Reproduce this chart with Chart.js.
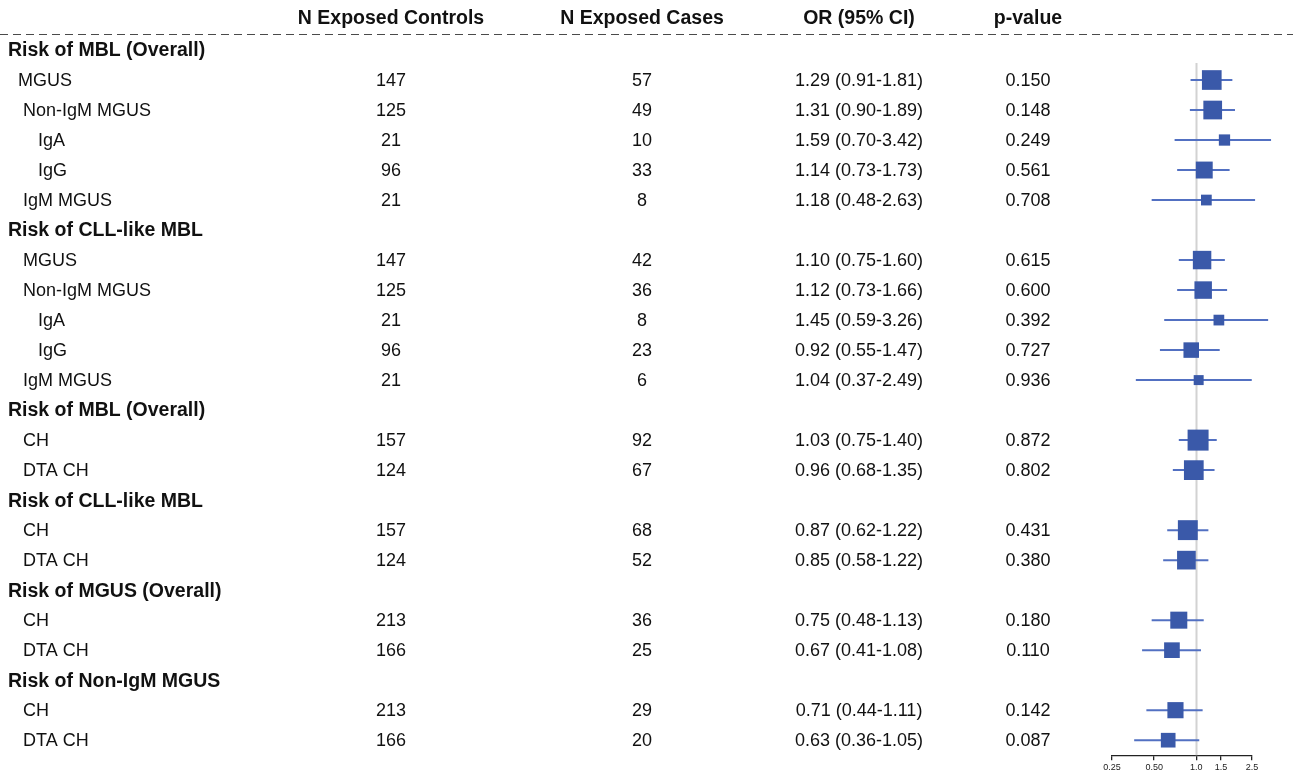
<!DOCTYPE html>
<html>
<head>
<meta charset="utf-8">
<script src="https://cdn.jsdelivr.net/npm/chart.js@4.4.1/dist/chart.umd.min.js"></script>
<style>
  html, body { margin: 0; padding: 0; background: #ffffff; }
  #wrap { width: 1293px; height: 776px; }
</style>
</head>
<body>
<div id="wrap"><canvas id="forest" width="1293" height="776"></canvas></div>
<script>
// ---- Table rows (top to bottom) ----
const rowLabels = [
  'Risk of MBL (Overall)',
  '  MGUS',
  '   Non-IgM MGUS',
  '      IgA',
  '      IgG',
  '   IgM MGUS',
  'Risk of CLL-like MBL',
  '   MGUS',
  '   Non-IgM MGUS',
  '      IgA',
  '      IgG',
  '   IgM MGUS',
  'Risk of MBL (Overall)',
  '   CH',
  '   DTA CH',
  'Risk of CLL-like MBL',
  '   CH',
  '   DTA CH',
  'Risk of MGUS (Overall)',
  '   CH',
  '   DTA CH',
  'Risk of Non-IgM MGUS',
  '   CH',
  '   DTA CH'
];
const isSection = [true, false, false, false, false, false,
                   true, false, false, false, false, false,
                   true, false, false,
                   true, false, false,
                   true, false, false,
                   true, false, false];
const nControls = [null, 147, 125, 21, 96, 21,
                   null, 147, 125, 21, 96, 21,
                   null, 157, 124,
                   null, 157, 124,
                   null, 213, 166,
                   null, 213, 166];
const nCases = [null, 57, 49, 10, 33, 8,
                null, 42, 36, 8, 23, 6,
                null, 92, 67,
                null, 68, 52,
                null, 36, 25,
                null, 29, 20];
const oddsRatio = [null, 1.29, 1.31, 1.59, 1.14, 1.18,
                   null, 1.10, 1.12, 1.45, 0.92, 1.04,
                   null, 1.03, 0.96,
                   null, 0.87, 0.85,
                   null, 0.75, 0.67,
                   null, 0.71, 0.63];
const ciLower = [null, 0.91, 0.90, 0.70, 0.73, 0.48,
                 null, 0.75, 0.73, 0.59, 0.55, 0.37,
                 null, 0.75, 0.68,
                 null, 0.62, 0.58,
                 null, 0.48, 0.41,
                 null, 0.44, 0.36];
const ciUpper = [null, 1.81, 1.89, 3.42, 1.73, 2.63,
                 null, 1.60, 1.66, 3.26, 1.47, 2.49,
                 null, 1.40, 1.35,
                 null, 1.22, 1.22,
                 null, 1.13, 1.08,
                 null, 1.11, 1.05];
const pValues = [null, '0.150', '0.148', '0.249', '0.561', '0.708',
                 null, '0.615', '0.600', '0.392', '0.727', '0.936',
                 null, '0.872', '0.802',
                 null, '0.431', '0.380',
                 null, '0.180', '0.110',
                 null, '0.142', '0.087'];
const columnHeaders = ['N Exposed Controls', 'N Exposed Cases', 'OR (95% CI)', 'p-value'];
const axisTicks = [0.25, 0.5, 1.0, 1.5, 2.5];
const axisTickLabels = ['0.25', '0.50', '1.0', '1.5', '2.5'];

// ---- Styling ----
const FONT = '"Liberation Sans", Arial, Helvetica, sans-serif';
const TEXT_COLOR = '#111111';
const BOX_COLOR = '#3a59a9';
const LINE_COLOR = '#5270c2';
const colCenters = [391, 642, 859, 1028];
const labelX = 8;
const textNudge = 1;

const dataRows = rowLabels.map((_, i) => i).filter(i => !isSection[i]);

// Box side follows the precision of each estimate (narrower CI -> bigger box)
const logWidth = i => Math.log(ciUpper[i] / ciLower[i]);
const minLogWidth = Math.min(...dataRows.map(logWidth));
const boxSide = i => 21 * Math.pow(minLogWidth / logWidth(i), 2 / 3);

const ciDatasets = dataRows.map(i => ({
  type: 'line',
  data: [{ x: ciLower[i], y: i }, { x: ciUpper[i], y: i }],
  borderColor: LINE_COLOR,
  borderWidth: 2,
  pointRadius: 0,
  clip: false,
  order: 2
}));

const boxDataset = {
  type: 'scatter',
  data: dataRows.map(i => ({ x: oddsRatio[i], y: i, row: i })),
  pointStyle: 'rect',
  pointRadius: ctx => boxSide(ctx.raw.row) / (2 * Math.SQRT1_2),
  pointHoverRadius: ctx => boxSide(ctx.raw.row) / (2 * Math.SQRT1_2),
  backgroundColor: BOX_COLOR,
  borderColor: BOX_COLOR,
  borderWidth: 0,
  clip: false,
  order: 1
};

// Null-effect reference line at OR = 1
const referenceLine = {
  id: 'referenceLine',
  beforeDatasetsDraw(chart) {
    const { ctx, scales: { x, y }, chartArea } = chart;
    const px = Math.round(x.getPixelForValue(1)) + 0.5;
    ctx.save();
    ctx.strokeStyle = '#d2d2d2';
    ctx.lineWidth = 2;
    ctx.beginPath();
    ctx.moveTo(px, y.getPixelForValue(0.43));
    ctx.lineTo(px, chartArea.bottom);
    ctx.stroke();
    ctx.restore();
  }
};

// Table text: column headers, dashed rule, row labels and statistics
const tableText = {
  id: 'tableText',
  afterDraw(chart) {
    const { ctx, scales: { y } } = chart;
    ctx.save();
    ctx.fillStyle = TEXT_COLOR;
    ctx.textBaseline = 'middle';

    ctx.font = 'bold 19.5px ' + FONT;
    ctx.textAlign = 'center';
    columnHeaders.forEach((h, k) => ctx.fillText(h, colCenters[k], 18 + textNudge));

    ctx.strokeStyle = '#4a4a4a';
    ctx.lineWidth = 1.2;
    ctx.setLineDash([8, 5]);
    ctx.beginPath();
    ctx.moveTo(0, 34.5);
    ctx.lineTo(1293, 34.5);
    ctx.stroke();
    ctx.setLineDash([]);

    rowLabels.forEach((label, i) => {
      const py = y.getPixelForValue(i) + textNudge;
      ctx.textAlign = 'left';
      if (isSection[i]) {
        ctx.font = 'bold 19.5px ' + FONT;
        ctx.fillText(label, labelX, py);
        return;
      }
      ctx.font = '18px ' + FONT;
      ctx.fillText(label, labelX, py);
      ctx.textAlign = 'center';
      ctx.fillText(String(nControls[i]), colCenters[0], py);
      ctx.fillText(String(nCases[i]), colCenters[1], py);
      const orText = oddsRatio[i].toFixed(2) + ' (' + ciLower[i].toFixed(2) + '-' + ciUpper[i].toFixed(2) + ')';
      ctx.fillText(orText, colCenters[2], py);
      ctx.fillText(pValues[i], colCenters[3], py);
    });
    ctx.restore();
  }
};

new Chart(document.getElementById('forest'), {
  type: 'scatter',
  data: { datasets: [boxDataset, ...ciDatasets] },
  options: {
    responsive: false,
    devicePixelRatio: 1,
    animation: false,
    events: [],
    layout: { padding: { left: 1112, right: 41, top: 35, bottom: 1 } },
    plugins: { legend: { display: false }, tooltip: { enabled: false } },
    scales: {
      x: {
        type: 'logarithmic',
        min: 0.25,
        max: 2.5,
        position: 'bottom',
        afterBuildTicks: scale => { scale.ticks = axisTicks.map(v => ({ value: v })); },
        ticks: {
          callback: (v, idx) => axisTickLabels[idx],
          font: { family: FONT, size: 9 },
          color: '#222222',
          padding: 2,
          maxRotation: 0,
          autoSkip: false
        },
        grid: { drawOnChartArea: false, drawTicks: true, tickLength: 5, color: '#222222', lineWidth: 1.3 },
        border: { display: true, color: '#222222', width: 1.3 }
      },
      y: { type: 'linear', reverse: true, min: -0.5, max: 23.5, display: false }
    }
  },
  plugins: [referenceLine, tableText]
});
</script>
</body>
</html>
